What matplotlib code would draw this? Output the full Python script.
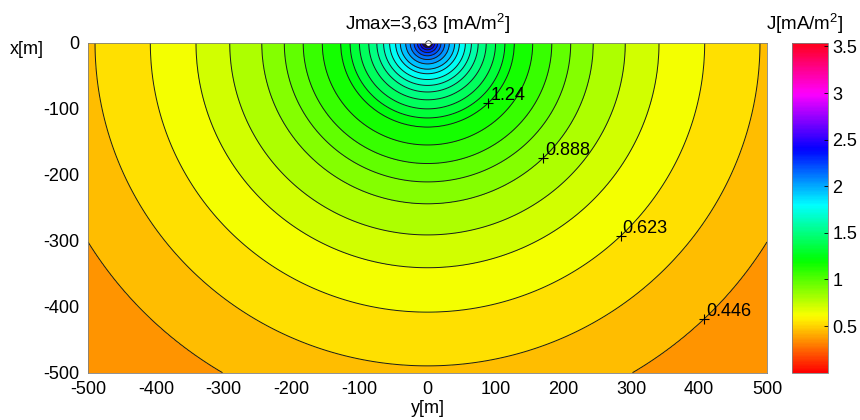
import numpy as np
import matplotlib
matplotlib.use('Agg')
import matplotlib.pyplot as plt
from matplotlib import colors, cm

# perfil radial de J (distancia ao eletrodo em m)
r_prof = [0, 3, 8, 16, 23, 31, 40, 47, 56, 64, 74, 86, 100, 114, 128,
          155, 183, 211, 244, 291, 341, 408, 490, 584, 720]
J_prof = [3.63, 2.80, 2.45, 2.28, 2.16, 2.05, 1.95, 1.86, 1.77, 1.69, 1.60,
          1.51, 1.42, 1.33, 1.24, 1.153, 1.065, 0.976, 0.888, 0.800, 0.711,
          0.623, 0.534, 0.446, 0.37]

# niveis rotulados
label_levels = [1.24, 0.888, 0.623, 0.446]
label_text = ['1.24', '0.888', '0.623', '0.446']
label_angle = 45.8  # graus abaixo do eixo y

jmax = 3.63
cbar_ticks = [0.5, 1, 1.5, 2, 2.5, 3, 3.5]
y_ticks = [-500, -400, -300, -200, -100, 0, 100, 200, 300, 400, 500]
x_ticks = [0, -100, -200, -300, -400, -500]

plt.rcParams['font.family'] = ['Liberation Sans', 'DejaVu Sans']
plt.rcParams['mathtext.fontset'] = 'custom'
plt.rcParams['mathtext.rm'] = 'Liberation Sans'
plt.rcParams['mathtext.default'] = 'regular'
plt.rcParams['axes.unicode_minus'] = False

W, H = 860, 420
fig = plt.figure(figsize=(W / 100, H / 100), dpi=100)
ax = fig.add_axes([88 / W, 1 - 372.7 / H, (767 - 88) / W, 330 / H])
cax = fig.add_axes([792.3 / W, 1 - 372.7 / H, 36 / W, 330 / H])

# grade
yy = np.linspace(-500, 500, 801)
xx = np.linspace(-500, 0, 401)
Y, X = np.meshgrid(yy, xx)
R = np.hypot(Y, X)
J = np.interp(R, r_prof, J_prof)

step = (label_levels[1] - label_levels[3]) / 5
levels = label_levels[3] + step * np.arange(-1, 38)
levels = levels[levels <= jmax]

norm = colors.Normalize(0, 3.54)
cmap = plt.get_cmap('hsv')
band_cols = [cmap(norm(l)) for l in levels[:-1]]

ax.contourf(Y, X, J, levels=levels, colors=band_cols)
ax.contour(Y, X, J, levels=levels, colors='0.1', linewidths=0.7)

# rotulos das curvas
th = np.deg2rad(label_angle)
for lvl, txt in zip(label_levels, label_text):
    r = np.interp(lvl, J_prof[::-1], r_prof[::-1])
    py, px = r * np.cos(th), -r * np.sin(th)
    ax.plot(py, px, '+', color='k', ms=7, mew=0.8)
    ax.annotate(txt, (py, px), xytext=(1.5, 2), textcoords='offset points',
                ha='left', va='baseline', fontsize=13)

ax.plot(0, 0, 'o', ms=4, mfc='white', mec='k', mew=0.5, clip_on=False)

ax.set_xlim(-500, 500)
ax.set_ylim(-500, 0)
ax.set_xticks(y_ticks)
ax.set_yticks(x_ticks)
ax.tick_params(length=0, labelsize=13, pad=6)
for s in ax.spines.values():
    s.set_color('0.5')
    s.set_linewidth(0.6)

sm = cm.ScalarMappable(norm=norm, cmap=cmap)
cb = fig.colorbar(sm, cax=cax, ticks=cbar_ticks)
cb.ax.set_yticklabels(['%g' % t for t in cbar_ticks])
cax.tick_params(direction='in', length=3, width=0.6, labelsize=13, pad=3)
cb.outline.set_edgecolor('0.5')
cb.outline.set_linewidth(0.6)

fig.text(427.5 / W, 1 - 30 / H, 'Jmax=3,63 [mA/m$^2$]', ha='center',
         va='baseline', fontsize=13.5)
fig.text(805 / W, 1 - 30 / H, 'J[mA/m$^2$]', ha='center', va='baseline',
         fontsize=13.5)
fig.text(10 / W, 1 - 54 / H, 'x[m]', ha='left', va='baseline', fontsize=13)
fig.text(427.5 / W, 1 - 413 / H, 'y[m]', ha='center', va='baseline',
         fontsize=13)

fig.savefig('out.png', dpi=100)
